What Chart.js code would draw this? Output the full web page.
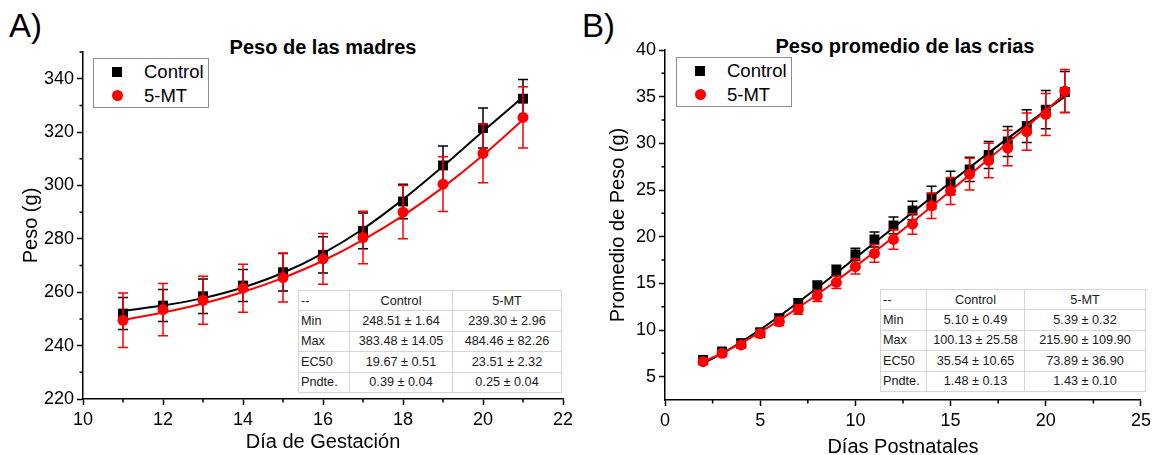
<!DOCTYPE html>
<html>
<head>
<meta charset="utf-8">
<script src="https://cdn.jsdelivr.net/npm/chart.js@4.4.1/dist/chart.umd.min.js"></script>
<style>
body { margin: 0; width: 1155px; height: 455px; overflow: hidden; background: #fff; position: relative;
       font-family: "Liberation Sans", Arial, sans-serif; }
.panel { position: absolute; top: 0; height: 465px; }
.panel canvas { display: block; }
.letter { position: absolute; top: 9px; font-size: 33px; color: #000; line-height: 1; }
.title { position: absolute; font-size: 20px; font-weight: bold; color: #000; white-space: nowrap; transform: translate(-50%, -50%); }
.legend { position: absolute; border: 1px solid #8c8c8c; background: #fff; box-sizing: border-box; }
.legend .row { position: absolute; left: 0; height: 22px; line-height: 22px; font-size: 18.5px; color: #000; white-space: nowrap; }
.legend .mk { position: absolute; top: 6px; width: 10px; height: 10px; }
.legend .sq { background: #000; }
.legend .dot { background: #ff0000; border-radius: 50%; width: 11px; height: 11px; top: 5px; }
table.fit { position: absolute; border-collapse: collapse; font-size: 12.7px; color: #1a1a1a; background: #fff;
            border: 1.5px solid #9a9a9a; table-layout: fixed; }
table.fit td { border: 1px solid #d6d6d6; padding: 0 2px; text-align: center; white-space: nowrap; overflow: hidden; }
table.fit td:first-child { text-align: left; }
</style>
</head>
<body>
<div class="letter" style="left:9px">A)</div>
<div class="letter" style="left:582px">B)</div>
<div class="title" style="left:323px;top:47px">Peso de las madres</div>
<div class="title" style="left:905px;top:46px">Peso promedio de las crias</div>

<div class="panel" style="left:0;width:578px"><canvas id="chartMadres" width="578" height="465"></canvas></div>
<div class="panel" style="left:578px;width:577px"><canvas id="chartCrias" width="577" height="465"></canvas></div>

<script>
const seriesNames = ['Control', '5-MT'];

// A) Peso de las madres
const diasGestacion = [11, 12, 13, 14, 15, 16, 17, 18, 19, 20, 21];
const madresControl = [252, 255, 258.5, 262.5, 267.5, 274, 283, 294, 307.5, 321.5, 332.5];
const madresControlErr = [6, 6, 6.5, 6, 7, 6.8, 6.7, 6.5, 7.3, 7.5, 7.2];
const madres5MT = [249.5, 253.5, 257, 261.5, 265.5, 272.5, 280.5, 290, 300.5, 312, 325.5];
const madres5MTErr = [10.2, 9.8, 9, 9, 9.2, 9.5, 9.8, 10, 10.3, 11, 11.5];
const madresControlFit = [253, 255, 257.8, 261.8, 267.3, 274.6, 283.7, 294.8, 307.2, 320.3, 333.1];
const madres5MTFit = [249.6, 252.4, 255.8, 260.1, 265.4, 271.8, 279.6, 288.7, 299.3, 311.3, 324.6];

// B) Peso promedio de las crias
const diasPostnatales = [2, 3, 4, 5, 6, 7, 8, 9, 10, 11, 12, 13, 14, 15, 16, 17, 18, 19, 20, 21];
const criasControl = [6.8, 7.7, 8.6, 9.75, 11.25, 12.85, 14.7, 16.35, 18.1, 19.7, 21.2, 22.8, 24.2, 25.75, 27.2, 28.75, 30.2, 31.85, 33.6, 35.5];
const criasControlErr = [0.3, 0.3, 0.35, 0.4, 0.45, 0.5, 0.55, 0.6, 0.65, 0.8, 0.9, 1.0, 1.2, 1.25, 1.3, 1.45, 1.6, 1.75, 2.05, 2.2];
const crias5MT = [6.6, 7.5, 8.4, 9.6, 10.9, 12.2, 13.65, 15.1, 16.8, 18.2, 19.7, 21.35, 23.3, 24.9, 26.7, 28.15, 29.5, 31.25, 33.1, 35.6];
const crias5MTErr = [0.3, 0.3, 0.35, 0.4, 0.45, 0.5, 0.6, 0.65, 0.8, 0.95, 1.05, 1.1, 1.35, 1.45, 1.7, 1.85, 1.9, 2.0, 2.25, 2.3];
const criasControlFit = [6.43, 7.49, 8.71, 10.04, 11.47, 12.97, 14.52, 16.1, 17.72, 19.34, 20.97, 22.6, 24.22, 25.83, 27.42, 28.98, 30.53, 32.04, 33.54, 35.0];
const crias5MTFit = [6.59, 7.52, 8.59, 9.77, 11.04, 12.39, 13.8, 15.27, 16.79, 18.35, 19.95, 21.58, 23.24, 24.92, 26.62, 28.33, 30.06, 31.79, 33.53, 35.28];

// fit tables
const tablaHeader = ['--', 'Control', '5-MT'];
const tablaParams = ['Min', 'Max', 'EC50', 'Pndte.'];
const tablaMadresControl = ['248.51 ± 1.64', '383.48 ± 14.05', '19.67 ± 0.51', '0.39 ± 0.04'];
const tablaMadres5MT = ['239.30 ± 2.96', '484.46 ± 82.26', '23.51 ± 2.32', '0.25 ± 0.04'];
const tablaCriasControl = ['5.10 ± 0.49', '100.13 ± 25.58', '35.54 ± 10.65', '1.48 ± 0.13'];
const tablaCrias5MT = ['5.39 ± 0.32', '215.90 ± 109.90', '73.89 ± 36.90', '1.43 ± 0.10'];

const BLACK = '#000000';
const RED = '#ff0000';
const FONT = '"Liberation Sans", Arial, sans-serif';

const toPoints = (xs, ys) => xs.map((x, i) => ({ x: x, y: ys[i] }));

// vertical error bars with caps, drawn under each marker set
const errorBars = {
    id: 'errorBars',
    beforeDatasetDraw(chart, args) {
        const ds = chart.data.datasets[args.index];
        if (!ds.err) return;
        const xScale = chart.scales.x, yScale = chart.scales.y;
        const ctx = chart.ctx;
        ctx.save();
        ctx.strokeStyle = ds.borderColor;
        ctx.lineWidth = 1.5;
        ds.data.forEach((p, i) => {
            const px = xScale.getPixelForValue(p.x);
            const top = yScale.getPixelForValue(p.y + ds.err[i]);
            const bot = yScale.getPixelForValue(p.y - ds.err[i]);
            ctx.beginPath();
            ctx.moveTo(px, top); ctx.lineTo(px, bot);
            ctx.moveTo(px - 5, top); ctx.lineTo(px + 5, top);
            ctx.moveTo(px - 5, bot); ctx.lineTo(px + 5, bot);
            ctx.stroke();
        });
        ctx.restore();
    }
};

// short outward minor ticks between the labelled ones
const minorTicks = {
    id: 'minorTicks',
    afterDraw(chart, args, opts) {
        const ctx = chart.ctx;
        const xs = chart.scales.x, ys = chart.scales.y;
        ctx.save();
        ctx.strokeStyle = BLACK;
        ctx.lineWidth = 1.5;
        ctx.beginPath();
        for (let v = xs.min + opts.xStep; v < xs.max; v += opts.xStep) {
            if (Math.abs(v / opts.xMajor - Math.round(v / opts.xMajor)) < 1e-6) continue;
            const px = xs.getPixelForValue(v);
            ctx.moveTo(px, xs.top); ctx.lineTo(px, xs.top + 3.5);
        }
        for (let v = opts.yFirst; v <= ys.max + 1e-6; v += opts.yMajor) {
            const py = ys.getPixelForValue(v);
            ctx.moveTo(ys.right, py); ctx.lineTo(ys.right - 3.5, py);
        }
        ctx.stroke();
        ctx.restore();
    }
};

const buildChart = (canvasId, cfg) => {
    const axisFont = { family: FONT, size: 18 };
    const titleFont = { family: FONT, size: 20, lineHeight: 1 };
    return new Chart(document.getElementById(canvasId), {
        type: 'scatter',
        data: {
            datasets: [
                { label: seriesNames[0] + ' fit', data: toPoints(cfg.xs, cfg.controlFit), showLine: true, borderColor: BLACK,
                  borderWidth: 2, pointRadius: 0, cubicInterpolationMode: 'monotone', order: 4 },
                { label: seriesNames[0], data: toPoints(cfg.xs, cfg.control), err: cfg.controlErr, showLine: false,
                  borderColor: BLACK, backgroundColor: BLACK, pointStyle: 'rect', pointRadius: 7, pointBorderWidth: 0, order: 3 },
                { label: seriesNames[1] + ' fit', data: toPoints(cfg.xs, cfg.mtFit), showLine: true, borderColor: RED,
                  borderWidth: 2, pointRadius: 0, cubicInterpolationMode: 'monotone', order: 2 },
                { label: seriesNames[1], data: toPoints(cfg.xs, cfg.mt), err: cfg.mtErr, showLine: false,
                  borderColor: RED, backgroundColor: RED, pointStyle: 'circle', pointRadius: 5.5, pointBorderWidth: 0, order: 1 }
            ]
        },
        options: {
            responsive: false,
            animation: false,
            events: [],
            layout: { padding: { top: cfg.top, right: cfg.padRight, left: 0, bottom: 0 } },
            plugins: {
                legend: { display: false },
                tooltip: { enabled: false },
                minorTicks: cfg.minor
            },
            scales: {
                x: {
                    type: 'linear', min: cfg.xMin, max: cfg.xMax,
                    border: { display: true, color: BLACK, width: 1.5 },
                    grid: { drawOnChartArea: false, drawTicks: true, tickLength: 6, tickColor: BLACK, tickWidth: 1.5 },
                    ticks: { stepSize: cfg.xStep, color: BLACK, font: axisFont, padding: 4, maxRotation: 0 },
                    title: { display: true, text: cfg.xTitle, color: BLACK, font: titleFont, padding: { top: 0, bottom: cfg.xTitlePad } },
                    afterFit: s => { s.height = 465 - cfg.bottom; }
                },
                y: {
                    type: 'linear', min: cfg.yMin, max: cfg.yMax,
                    border: { display: true, color: BLACK, width: 1.5 },
                    grid: { drawOnChartArea: false, drawTicks: true, tickLength: 6, tickColor: BLACK, tickWidth: 1.5 },
                    ticks: { stepSize: cfg.yStep, color: BLACK, font: axisFont, padding: 3 },
                    afterBuildTicks: s => { s.ticks = s.ticks.filter(t => Math.abs(t.value % cfg.yStep) < 1e-6); },
                    title: { display: true, text: cfg.yTitle, color: BLACK, font: titleFont, padding: { top: cfg.yTitlePad, bottom: 0 } },
                    afterFit: s => { s.width = cfg.left; }
                }
            }
        },
        plugins: [errorBars, minorTicks]
    });
};

buildChart('chartMadres', {
    xs: diasGestacion, control: madresControl, controlErr: madresControlErr, mt: madres5MT, mtErr: madres5MTErr,
    controlFit: madresControlFit, mtFit: madres5MTFit,
    xMin: 10, xMax: 22, xStep: 2, yMin: 220, yMax: 350, yStep: 20,
    xTitle: 'Día de Gestación', yTitle: 'Peso (g)',
    left: 83, top: 52, bottom: 399, padRight: 15, xTitlePad: 13, yTitlePad: 21,
    minor: { xStep: 1, xMajor: 2, yFirst: 230, yMajor: 20 }
});

buildChart('chartCrias', {
    xs: diasPostnatales, control: criasControl, controlErr: criasControlErr, mt: crias5MT, mtErr: crias5MTErr,
    controlFit: criasControlFit, mtFit: crias5MTFit,
    xMin: 0, xMax: 25, xStep: 5, yMin: 2.5, yMax: 40, yStep: 5,
    xTitle: 'Días Postnatales', yTitle: 'Promedio de Peso (g)',
    left: 87, top: 50, bottom: 400, padRight: 10, xTitlePad: 8, yTitlePad: 30,
    minor: { xStep: 2.5, xMajor: 5, yFirst: 7.5, yMajor: 5 }
});

// legends
const addLegend = (left, top) => {
    const box = document.createElement('div');
    box.className = 'legend';
    box.style.cssText = `left:${left}px;top:${top}px;width:116px;height:50px`;
    seriesNames.forEach((name, i) => {
        const row = document.createElement('div');
        row.className = 'row';
        row.style.top = (2 + i * 24) + 'px';
        row.style.width = '116px';
        row.innerHTML = `<span class="mk ${i === 0 ? 'sq' : 'dot'}" style="left:18px"></span><span style="position:absolute;left:50px">${name}</span>`;
        box.appendChild(row);
    });
    document.body.appendChild(box);
};
addLegend(93, 58);
addLegend(676, 57);

// parameter tables
const addTable = (left, top, widths, colControl, col5MT) => {
    const table = document.createElement('table');
    table.className = 'fit';
    table.style.cssText = `left:${left}px;top:${top}px;width:${widths.reduce((a, b) => a + b, 0)}px`;
    const cg = document.createElement('colgroup');
    widths.forEach(w => { const c = document.createElement('col'); c.style.width = w + 'px'; cg.appendChild(c); });
    table.appendChild(cg);
    const rows = [tablaHeader].concat(tablaParams.map((p, i) => [p, colControl[i], col5MT[i]]));
    rows.forEach(r => {
        const tr = document.createElement('tr');
        tr.style.height = '20.4px';
        r.forEach(cell => { const td = document.createElement('td'); td.textContent = cell; tr.appendChild(td); });
        table.appendChild(tr);
    });
    document.body.appendChild(table);
};
addTable(298, 290, [51, 103, 109], tablaMadresControl, tablaMadres5MT);
addTable(880, 289, [46, 98, 121], tablaCriasControl, tablaCrias5MT);
</script>
</body>
</html>
